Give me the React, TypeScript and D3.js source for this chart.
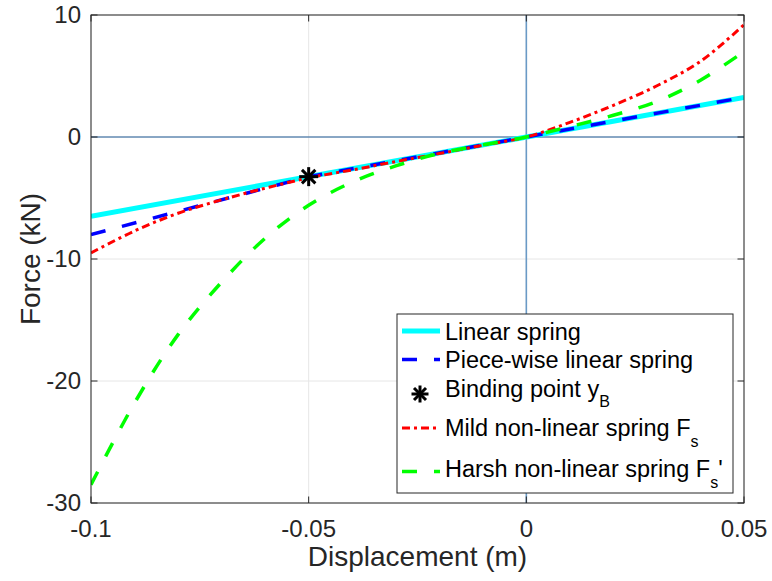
import React from "react";
import * as d3 from "d3";

const xSamples = [-0.1, -0.09, -0.08, -0.07, -0.06, -0.05, -0.04, -0.03, -0.02, -0.01, 0, 0.01, 0.02, 0.03, 0.04, 0.05];
const mildForce = [-9.5, -7.7, -6.25, -5.15, -4.2, -3.35, -2.7, -2.02, -1.36, -0.68, 0, 1.2, 2.6, 4.2, 6.2, 9.2];
const harshForce = [-28.5, -21.8, -16.2, -11.9, -8.3, -5.6, -3.7, -2.37, -1.35, -0.65, 0, 0.85, 1.78, 2.92, 4.65, 7.0];
const linearX = [-0.1, 0.05];
const linearForce = [-6.5, 3.25];
const piecewiseX = [-0.1, -0.05, 0.05];
const piecewiseForce = [-8.0, -3.25, 3.25];
const bindingPoint = [-0.05, -3.25];
const xTicks = [-0.1, -0.05, 0, 0.05];
const yTicks = [10, 0, -10, -20, -30];

const W = 772, H = 581;
const L = 91, R = 744, T = 15, B = 503;
const FONT = "'Liberation Sans', Arial, Helvetica, sans-serif";
const AX = "#262626";

function fmt(v: number) {
  if (v === 0) return "0";
  return String(v);
}

function Star({ cx, cy, r }: { cx: number; cy: number; r: number }) {
  const d = r * Math.SQRT1_2;
  return (
    <g stroke="#000" strokeWidth={3} strokeLinecap="butt">
      <line x1={cx - r} y1={cy} x2={cx + r} y2={cy} />
      <line x1={cx} y1={cy - r} x2={cx} y2={cy + r} />
      <line x1={cx - d} y1={cy - d} x2={cx + d} y2={cy + d} />
      <line x1={cx - d} y1={cy + d} x2={cx + d} y2={cy - d} />
    </g>
  );
}

export default function App() {
  const x = d3.scaleLinear().domain([-0.1, 0.05]).range([L, R]);
  const y = d3.scaleLinear().domain([-30, 10]).range([B, T]);
  const line = d3
    .line<[number, number]>()
    .x((d) => x(d[0]))
    .y((d) => y(d[1]));
  const smooth = d3
    .line<[number, number]>()
    .x((d) => x(d[0]))
    .y((d) => y(d[1]))
    .curve(d3.curveCatmullRom.alpha(0.5));

  const linPts = linearX.map((v, i) => [v, linearForce[i]] as [number, number]);
  const pwPts = piecewiseX.map((v, i) => [v, piecewiseForce[i]] as [number, number]);
  const mildPts = xSamples.map((v, i) => [v, mildForce[i]] as [number, number]);
  const harshPts = xSamples.map((v, i) => [v, harshForce[i]] as [number, number]);

  const tickLen = 6.5;
  const lx0 = 402, lx1 = 440, tx = 445;

  return (
    <svg width={W} height={H} style={{ position: "absolute", left: 0, top: 0, background: "#fff" }} fontFamily={FONT}>
      <rect x={0} y={0} width={W} height={H} fill="#fff" />
      <defs>
        <clipPath id="plot">
          <rect x={L} y={T} width={R - L} height={B - T} />
        </clipPath>
      </defs>
      <g stroke="#e6e6e6" strokeWidth={1}>
        {xTicks.map((v) => (
          <line key={"gx" + v} x1={x(v)} x2={x(v)} y1={T} y2={B} />
        ))}
        {yTicks.map((v) => (
          <line key={"gy" + v} x1={L} x2={R} y1={y(v)} y2={y(v)} />
        ))}
      </g>
      <line x1={L} x2={R} y1={y(0)} y2={y(0)} stroke="#1f5a96" strokeWidth={1} />
      <line x1={x(0)} x2={x(0)} y1={T} y2={B} stroke="#6a9ac6" strokeWidth={1.6} />
      <g clipPath="url(#plot)" fill="none">
        <path d={line(linPts) || ""} stroke="#00ffff" strokeWidth={5} />
        <path d={line(pwPts) || ""} stroke="#0000ff" strokeWidth={3.5} strokeDasharray="15,17" />
        <path d={smooth(mildPts) || ""} stroke="#ff0000" strokeWidth={3} strokeDasharray="8,4,3,4" />
        <path d={smooth(harshPts) || ""} stroke="#00ff00" strokeWidth={3.5} strokeDasharray="15,17" />
      </g>
      <Star cx={x(bindingPoint[0])} cy={y(bindingPoint[1])} r={9.5} />
      <rect x={L} y={T} width={R - L} height={B - T} fill="none" stroke={AX} strokeWidth={1} />
      <g stroke={AX} strokeWidth={1}>
        {xTicks.map((v) => (
          <g key={"xt" + v}>
            <line x1={x(v)} x2={x(v)} y1={B} y2={B - tickLen} />
            <line x1={x(v)} x2={x(v)} y1={T} y2={T + tickLen} />
          </g>
        ))}
        {yTicks.map((v) => (
          <g key={"yt" + v}>
            <line x1={L} x2={L + tickLen} y1={y(v)} y2={y(v)} />
            <line x1={R} x2={R - tickLen} y1={y(v)} y2={y(v)} />
          </g>
        ))}
      </g>
      <g fill={AX} fontSize={24}>
        {xTicks.map((v) => (
          <text key={"xl" + v} x={x(v)} y={537} textAnchor="middle">
            {fmt(v)}
          </text>
        ))}
        {yTicks.map((v) => (
          <text key={"yl" + v} x={81} y={y(v)} dy="0.35em" textAnchor="end">
            {fmt(v)}
          </text>
        ))}
      </g>
      <text x={(L + R) / 2} y={566} textAnchor="middle" fontSize={28} fill={AX}>
        Displacement (m)
      </text>
      <text
        transform={`translate(40, ${(T + B) / 2}) rotate(-90)`}
        textAnchor="middle"
        fontSize={28}
        fill={AX}
      >
        Force (kN)
      </text>
      <rect x={397} y={314} width={336} height={179} fill="#fff" stroke={AX} strokeWidth={1} />
      <g fontSize={23.5} fill="#000">
        <line x1={lx0} x2={lx1} y1={331} y2={331} stroke="#00ffff" strokeWidth={5} />
        <text x={tx} y={339.5}>Linear spring</text>
        <line x1={lx0} x2={lx1} y1={359.5} y2={359.5} stroke="#0000ff" strokeWidth={3.5} strokeDasharray="15,17" />
        <text x={tx} y={368}>Piece-wise linear spring</text>
        <Star cx={420} cy={394} r={8.5} />
        <text x={tx} y={397}>
          Binding point y<tspan fontSize={16} dy={10}>B</tspan>
        </text>
        <line x1={lx0} x2={lx1} y1={428} y2={428} stroke="#ff0000" strokeWidth={3} strokeDasharray="8,4,3,4" />
        <text x={tx} y={436}>
          Mild non-linear spring F<tspan fontSize={16} dy={11}>s</tspan>
        </text>
        <line x1={lx0} x2={lx1} y1={471.5} y2={471.5} stroke="#00ff00" strokeWidth={3.5} strokeDasharray="15,17" />
        <text x={tx} y={477}>
          Harsh non-linear spring F<tspan fontSize={16} dy={11}>s</tspan>
          <tspan dy={-11}>'</tspan>
        </text>
      </g>
    </svg>
  );
}
